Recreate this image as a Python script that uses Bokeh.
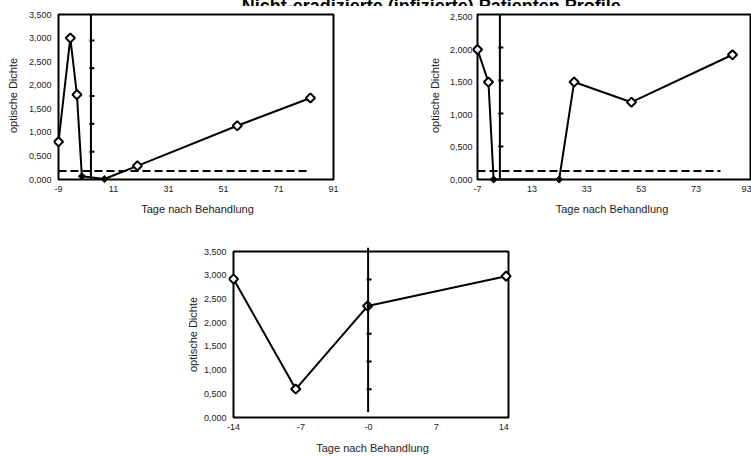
import math
from bokeh.plotting import figure
from bokeh.layouts import column, row
from bokeh.models import Range1d, FixedTicker
from bokeh.embed import file_html
from bokeh.resources import INLINE
from bokeh.core.properties import value

TITLE = "Nicht-eradizierte (infizierte) Patienten Profile"
X_TITLE = "Tage nach Behandlung"
Y_TITLE = "optische Dichte"

# ---- Patient A (top left) ----
a_days = [-9, -4.7, -2.3, -0.5, 7.7, 19.7, 56.0, 82.6]
a_od = [800, 3000, 1800, 70, 10, 290, 1140, 1730]
a_filled = [False, False, False, True, True, False, False, False]
a_cutoff = 180
a_cutoff_days = [-9, 82.3]
a_treat_day = 2.8
a_treat_span = [0, 3500]
a_treat_ticks = [590, 1180, 1770, 2360, 2950]
a_xlim = (-9, 91)
a_ylim = (0, 3500)
a_xticks = [-9, 11, 31, 51, 71, 91]
a_xlabels = ["-9", "11", "31", "51", "71", "91"]
a_yticks = [0, 500, 1000, 1500, 2000, 2500, 3000, 3500]
a_ylabels = ["0,000", "0,500", "1,000", "1,500", "2,000", "2,500", "3,000", "3,500"]

# ---- Patient B (top right) ----
b_days = [-7, -3.0, -1.1, 22.9, 28.4, 49.4, 86.4]
b_od = [2000, 1500, 0, 0, 1500, 1190, 1920]
b_filled = [False, False, True, True, False, False, False]
b_cutoff = 130
b_cutoff_days = [-7, 82]
b_treat_day = 1.2
b_treat_span = [0, 2540]
b_treat_ticks = [508, 1016, 1524, 2032]
b_xlim = (-7, 93)
b_ylim = (0, 2540)
b_xticks = [-7, 13, 33, 53, 73, 93]
b_xlabels = ["-7", "13", "33", "53", "73", "93"]
b_yticks = [0, 500, 1000, 1500, 2000, 2500]
b_ylabels = ["0,000", "0,500", "1,000", "1,500", "2,000", "2,500"]

# ---- Patient C (bottom) ----
c_days = [-14.3, -7.85, -0.4, 13.95]
c_od = [2920, 600, 2350, 2980]
c_filled = [False, False, False, False]
c_treat_day = -0.35
c_treat_span = [110, 3580]
c_treat_ticks = [596, 1181, 1765, 2347, 2910]
c_xlim = (-14.3, 14.2)
c_ylim = (0, 3500)
c_xticks = [-14.3, -7.3, -0.3, 6.7, 13.7]
c_xlabels = ["-14", "-7", "-0", "7", "14"]
c_yticks = [0, 500, 1000, 1500, 2000, 2500, 3000, 3500]
c_ylabels = ["0,000", "0,500", "1,000", "1,500", "2,000", "2,500", "3,000", "3,500"]

FONT = "Liberation Sans"
TXT = "#222222"


def panel(days, od, filled, xlim, ylim, xticks, xlabels, yticks, ylabels,
          treat_day, treat_span, treat_ticks, cutoff, cutoff_days,
          width, height, box_w, box_h, pad, border_left, border_top,
          ylab_standoff, ylabel_standoff, xlab_standoff=1, xlabel_standoff=8):
    pl, pr, pt, pb = pad
    fw = box_w + pl + pr
    fh = box_h + pt + pb
    ux = (xlim[1] - xlim[0]) / box_w
    uy = (ylim[1] - ylim[0]) / box_h
    p = figure(width=width, height=height, output_backend="svg", toolbar_location=None,
               x_range=Range1d(xlim[0] - pl * ux, xlim[1] + pr * ux),
               y_range=Range1d(ylim[0] - pb * uy, ylim[1] + pt * uy),
               min_border_left=border_left, min_border_top=border_top,
               min_border_right=width - border_left - fw,
               min_border_bottom=height - border_top - fh)
    p.xgrid.visible = False
    p.ygrid.visible = False
    p.outline_line_color = None
    p.background_fill_color = "white"
    p.border_fill_color = "white"
    for ax in (p.xaxis[0], p.yaxis[0]):
        ax.axis_line_color = None
        ax.major_tick_line_color = None
        ax.minor_tick_line_color = None
        ax.major_tick_in = 0
        ax.major_tick_out = 0
        ax.major_label_text_font = FONT
        ax.major_label_text_font_size = "9px"
        ax.major_label_text_color = TXT
        ax.axis_label_text_font = FONT
        ax.axis_label_text_font_size = "11px"
        ax.axis_label_text_font_style = "normal"
        ax.axis_label_text_color = TXT
    p.xaxis.ticker = FixedTicker(ticks=xticks)
    p.xaxis.major_label_overrides = dict(zip(xticks, xlabels))
    p.yaxis.ticker = FixedTicker(ticks=yticks)
    p.yaxis.major_label_overrides = dict(zip(yticks, ylabels))
    p.xaxis.axis_label = X_TITLE
    p.yaxis.axis_label = Y_TITLE
    p.xaxis.major_label_standoff = xlab_standoff
    p.xaxis.axis_label_standoff = xlabel_standoff
    p.yaxis.major_label_standoff = ylab_standoff
    p.yaxis.axis_label_standoff = ylabel_standoff

    # plot area border
    p.quad(left=[xlim[0]], right=[xlim[1]], bottom=[ylim[0]], top=[ylim[1]],
           fill_color=None, line_color="black", line_width=2)
    # cutoff
    if cutoff is not None:
        p.line(cutoff_days, [cutoff, cutoff], line_color="black", line_width=2,
               line_dash="8 4")
    # data
    p.line(days, od, line_color="black", line_width=2)
    ox = [d for d, f in zip(days, filled) if not f]
    oy = [v for v, f in zip(od, filled) if not f]
    fx = [d for d, f in zip(days, filled) if f]
    fy = [v for v, f in zip(od, filled) if f]
    p.scatter(ox, oy, marker="square", angle=math.pi / 4, size=6.5,
              fill_color="white", line_color="black", line_width=2)
    if fx:
        p.scatter(fx, fy, marker="square", angle=math.pi / 4, size=5,
                  fill_color="black", line_color="black", line_width=1)
    # treatment marker line with ticks
    p.line([treat_day, treat_day], treat_span, line_color="black", line_width=2)
    p.scatter([treat_day + 1.0 * ux] * len(treat_ticks), treat_ticks, marker="dash",
              size=5, line_color="black", line_width=2)
    return p


pa = panel(a_days, a_od, a_filled, a_xlim, a_ylim, a_xticks, a_xlabels, a_yticks, a_ylabels,
           a_treat_day, a_treat_span, a_treat_ticks, a_cutoff, a_cutoff_days,
           width=380, height=219, box_w=275, box_h=165, pad=(5, 8, 8, 5),
           border_left=53, border_top=0, ylab_standoff=2, ylabel_standoff=7)

pb = panel(b_days, b_od, b_filled, b_xlim, b_ylim, b_xticks, b_xlabels, b_yticks, b_ylabels,
           b_treat_day, b_treat_span, b_treat_ticks, b_cutoff, b_cutoff_days,
           width=371, height=219, box_w=273, box_h=165, pad=(5, 1, 8, 5),
           border_left=92, border_top=0, ylab_standoff=0, ylabel_standoff=6)

pc = panel(c_days, c_od, c_filled, c_xlim, c_ylim, c_xticks, c_xlabels, c_yticks, c_ylabels,
           c_treat_day, c_treat_span, c_treat_ticks, None, None,
           width=540, height=231, box_w=275, box_h=166, pad=(5, 8, 5, 5),
           border_left=228, border_top=21, ylab_standoff=2, ylabel_standoff=2,
           xlab_standoff=1, xlabel_standoff=9)

# title strip (pixel units): starts above the page, so only the lower part of the title shows
tf = figure(width=751, height=20, output_backend="svg", toolbar_location=None,
            x_range=Range1d(0, 751), y_range=Range1d(0, 20), min_border=0,
            x_axis_location=None, y_axis_location=None, margin=(-14, 0, 0, 0))
tf.xgrid.visible = False
tf.ygrid.visible = False
tf.outline_line_color = None
tf.background_fill_color = "white"
tf.border_fill_color = "white"
tf.text(x=[20], y=[0.5], text=[TITLE], text_align="left", text_baseline="alphabetic",
        text_font=value(FONT), text_font_style="bold", text_font_size="18px",
        text_color="black")

layout = column(tf, row(pa, pb), pc, margin=0)

open("out.html", "w").write(file_html(layout, INLINE))
